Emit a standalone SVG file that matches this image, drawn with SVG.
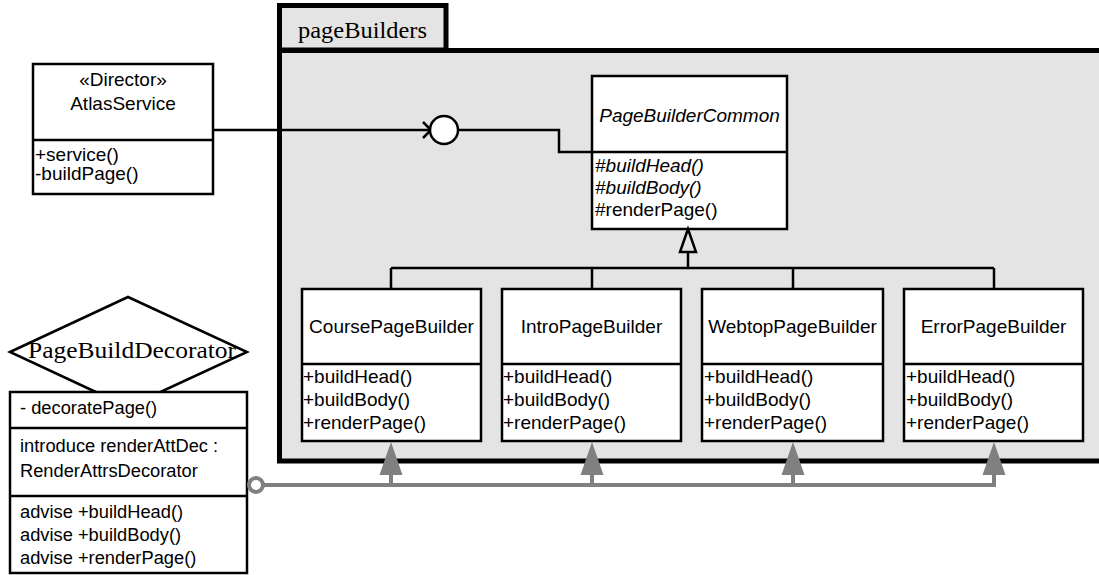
<svg xmlns="http://www.w3.org/2000/svg" width="1099" height="575" viewBox="0 0 1099 575">
<style>
.box{fill:#fff;stroke:#000;stroke-width:2.5}
.ln{fill:none;stroke:#000;stroke-width:2.5}
.t{font-family:"Liberation Sans",Arial,sans-serif;font-size:19px;fill:#000}
.td{font-family:"Liberation Sans",Arial,sans-serif;font-size:18.3px;fill:#000}
.c{text-anchor:middle}
.i{font-style:italic}
.serif{font-family:"Liberation Serif","Times New Roman",serif;font-size:23px;fill:#000}
.g{fill:none;stroke:#808080;stroke-width:4}
.gf{fill:#808080;stroke:none}
</style>
<rect width="1099" height="575" fill="#fff"/>
<g id="pageBuilders">
<rect x="279.5" y="5.5" width="166.5" height="44.5" fill="#e4e4e4" stroke="#000" stroke-width="5"/>
<rect x="279.5" y="50.5" width="830" height="410.5" fill="#e4e4e4" stroke="#000" stroke-width="5"/>
<text class="serif" x="298" y="38" textLength="129" lengthAdjust="spacingAndGlyphs">pageBuilders</text>
</g>
<g id="AtlasService">
<rect class="box" x="33" y="64" width="180" height="130"/>
<line class="ln" x1="33" y1="140" x2="213" y2="140"/>
<text class="t c" x="123" y="86">«Director»</text>
<text class="t c" x="123" y="110">AtlasService</text>
<text class="t" x="35" y="161">+service()</text>
<text class="t" x="35" y="180">-buildPage()</text>
</g>
<g id="PageBuilderCommon">
<rect class="box" x="592" y="76" width="195" height="153"/>
<line class="ln" x1="592" y1="152" x2="787" y2="152"/>
<text class="t c i" x="689.5" y="122">PageBuilderCommon</text>
<text class="t i" x="595" y="172">#buildHead()</text>
<text class="t i" x="595" y="194">#buildBody()</text>
<text class="t" x="595" y="216">#renderPage()</text>
</g>
<g id="CoursePageBuilder">
<rect class="box" x="302" y="289" width="179" height="152"/>
<line class="ln" x1="302" y1="364" x2="481" y2="364"/>
<text class="t c" x="391.5" y="333">CoursePageBuilder</text>
<text class="t" x="303" y="383">+buildHead()</text>
<text class="t" x="303" y="406">+buildBody()</text>
<text class="t" x="303" y="429">+renderPage()</text>
</g>
<g id="IntroPageBuilder">
<rect class="box" x="502" y="289" width="179" height="152"/>
<line class="ln" x1="502" y1="364" x2="681" y2="364"/>
<text class="t c" x="591.5" y="333">IntroPageBuilder</text>
<text class="t" x="503" y="383">+buildHead()</text>
<text class="t" x="503" y="406">+buildBody()</text>
<text class="t" x="503" y="429">+renderPage()</text>
</g>
<g id="WebtopPageBuilder">
<rect class="box" x="702" y="289" width="181" height="152"/>
<line class="ln" x1="702" y1="364" x2="883" y2="364"/>
<text class="t c" x="792.5" y="333">WebtopPageBuilder</text>
<text class="t" x="704" y="383">+buildHead()</text>
<text class="t" x="704" y="406">+buildBody()</text>
<text class="t" x="704" y="429">+renderPage()</text>
</g>
<g id="ErrorPageBuilder">
<rect class="box" x="904" y="289" width="179" height="152"/>
<line class="ln" x1="904" y1="364" x2="1083" y2="364"/>
<text class="t c" x="993.5" y="333">ErrorPageBuilder</text>
<text class="t" x="906" y="383">+buildHead()</text>
<text class="t" x="906" y="406">+buildBody()</text>
<text class="t" x="906" y="429">+renderPage()</text>
</g>
<g id="PageBuildDecorator">
<polygon points="10,352 128,297 247,352 128,407" fill="#fff" stroke="#000" stroke-width="2.5"/>
<text class="serif" x="28" y="358" textLength="208" lengthAdjust="spacingAndGlyphs">PageBuildDecorator</text>
<rect class="box" x="10" y="392" width="237" height="181"/>
<line class="ln" x1="10" y1="428" x2="247" y2="428"/>
<line class="ln" x1="10" y1="496" x2="247" y2="496"/>
<text class="td" x="20" y="414">- decoratePage()</text>
<text class="td" x="20" y="452">introduce renderAttDec :</text>
<text class="td" x="20" y="477">RenderAttrsDecorator</text>
<text class="td" x="20" y="518">advise +buildHead()</text>
<text class="td" x="20" y="541">advise +buildBody()</text>
<text class="td" x="20" y="564">advise +renderPage()</text>
</g>
<g id="connectors">
<polyline class="ln" points="213,130 430,130"/>
<polyline class="ln" points="423,122 431,130 423,138"/>
<circle cx="444" cy="130" r="14" fill="#fff" stroke="#000" stroke-width="2.5"/>
<polyline class="ln" points="458,130 559,130 559,152 592,152"/>
<polygon points="688,229 680,252 696,252" fill="none" stroke="#000" stroke-width="2.5"/>
<line class="ln" x1="688" y1="252" x2="688" y2="268"/>
<line class="ln" x1="391" y1="268" x2="994" y2="268"/>
<line class="ln" x1="391" y1="268" x2="391" y2="289"/>
<line class="ln" x1="592" y1="268" x2="592" y2="289"/>
<line class="ln" x1="793" y1="268" x2="793" y2="289"/>
<line class="ln" x1="994" y1="268" x2="994" y2="289"/>
<polyline class="g" points="263,485 994,485 994,474"/>
<line class="g" x1="391" y1="485" x2="391" y2="474"/>
<line class="g" x1="592" y1="485" x2="592" y2="474"/>
<line class="g" x1="793" y1="485" x2="793" y2="474"/>
<polygon class="gf" points="391,442 379.5,475 402.5,475"/>
<polygon class="gf" points="592,442 580.5,475 603.5,475"/>
<polygon class="gf" points="793,442 781.5,475 804.5,475"/>
<polygon class="gf" points="994,442 982.5,475 1005.5,475"/>
<circle cx="256" cy="485" r="7" fill="#fff" stroke="#808080" stroke-width="4"/>
</g>
</svg>
